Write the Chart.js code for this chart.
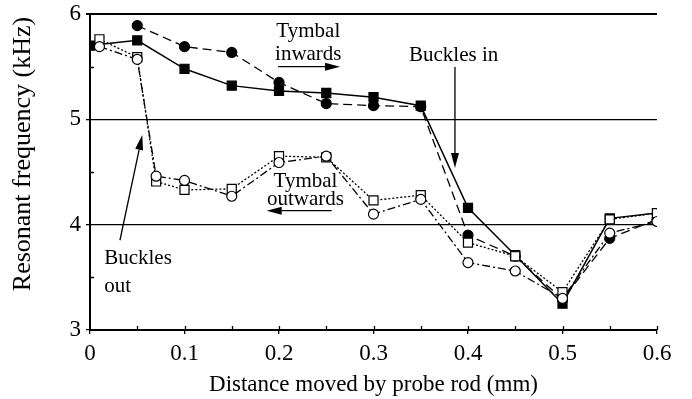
<!DOCTYPE html>
<html>
<head>
<meta charset="utf-8">
<script src="https://cdn.jsdelivr.net/npm/chart.js@4/dist/chart.umd.min.js"></script>
<style>
  html, body { margin: 0; padding: 0; background: #fff; }
  #wrap { width: 692px; height: 399px; }
</style>
</head>
<body>
<div id="wrap"><canvas id="freqChart" width="692" height="399"></canvas></div>
<script>
// Distance moved by the probe rod (mm)
const xInSquares = [0, 0.05, 0.1, 0.15, 0.2, 0.25, 0.3, 0.35, 0.4, 0.45, 0.5, 0.55, 0.6];
const xInCircles = [0.05, 0.1, 0.15, 0.2, 0.25, 0.3, 0.35, 0.4, 0.45, 0.5, 0.55, 0.6];
const xOut = [0.01, 0.05, 0.07, 0.1, 0.15, 0.2, 0.25, 0.3, 0.35, 0.4, 0.45, 0.5, 0.55, 0.6];

// Resonant frequency (kHz)
const filledSquares = [5.70, 5.75, 5.48, 5.32, 5.27, 5.25, 5.21, 5.13, 4.16, 3.71, 3.25, 4.06, 4.11];
const filledCircles = [5.89, 5.69, 5.635, 5.35, 5.15, 5.13, 5.12, 3.90, 3.70, 3.29, 3.87, 4.05];
const openSquares = [5.76, 5.59, 4.41, 4.33, 4.34, 4.65, 4.64, 4.23, 4.28, 3.83, 3.70, 3.36, 4.05, 4.11];
const openCircles = [5.69, 5.57, 4.46, 4.42, 4.27, 4.59, 4.65, 4.10, 4.24, 3.64, 3.56, 3.30, 3.92, 4.03];

const xTickLabels = ['0', '0.1', '0.2', '0.3', '0.4', '0.5', '0.6'];
const yTickLabels = ['3', '4', '5', '6'];

const SERIF = "'Liberation Serif', 'Times New Roman', serif";
const pts = (xs, ys) => xs.map((x, i) => ({ x: x, y: ys[i] }));
const isWhole = (v, step) => Math.abs(v / step - Math.round(v / step)) < 1e-6;

// text labels and arrows, in data units
const notes = [
  { text: 'Tymbal', x: 0.231, y: 5.78, align: 'center' },
  { text: 'inwards', x: 0.231, y: 5.56, align: 'center' },
  { text: 'Tymbal', x: 0.228, y: 4.356, align: 'center' },
  { text: 'outwards', x: 0.228, y: 4.187, align: 'center' },
  { text: 'Buckles in', x: 0.3376, y: 5.558, align: 'left' },
  { text: 'Buckles', x: 0.015, y: 3.628, align: 'left' },
  { text: 'out', x: 0.015, y: 3.364, align: 'left' }
];
const arrows = [
  { from: [0.199, 5.50], to: [0.2646, 5.50] },
  { from: [0.2557, 4.133], to: [0.187, 4.133] },
  { from: [0.3862, 5.498], to: [0.3862, 4.538] },
  { from: [0.0317, 3.852], to: [0.0553, 4.852] }
];

const extras = {
  id: 'extras',
  afterDatasetsDraw(chart) {
    const { ctx, scales: { x, y }, chartArea } = chart;
    ctx.save();
    ctx.strokeStyle = '#000';
    ctx.fillStyle = '#000';

    // inner minor ticks
    ctx.lineWidth = 1.3;
    ctx.beginPath();
    for (let v = 3.5; v < 6; v += 1) {
      const py = Math.round(y.getPixelForValue(v)) + 0.5;
      ctx.moveTo(chartArea.left, py);
      ctx.lineTo(chartArea.left + 4, py);
    }
    for (let i = 1; i <= 12; i++) {
      const px = Math.round(x.getPixelForValue(i * 0.05)) + 0.5;
      ctx.moveTo(px, chartArea.bottom);
      ctx.lineTo(px, chartArea.bottom - 4);
    }
    ctx.stroke();

    // notes
    ctx.font = '21px ' + SERIF;
    ctx.textBaseline = 'alphabetic';
    notes.forEach(n => {
      ctx.textAlign = n.align;
      ctx.fillText(n.text, x.getPixelForValue(n.x), y.getPixelForValue(n.y));
    });

    // arrows
    ctx.lineWidth = 1.3;
    arrows.forEach(a => {
      const x0 = x.getPixelForValue(a.from[0]), y0 = y.getPixelForValue(a.from[1]);
      const x1 = x.getPixelForValue(a.to[0]), y1 = y.getPixelForValue(a.to[1]);
      const ang = Math.atan2(y1 - y0, x1 - x0);
      const len = 15, half = 4;
      const bx = x1 - len * Math.cos(ang), by = y1 - len * Math.sin(ang);
      ctx.beginPath();
      ctx.moveTo(x0, y0);
      ctx.lineTo(bx, by);
      ctx.stroke();
      ctx.beginPath();
      ctx.moveTo(x1, y1);
      ctx.lineTo(bx + half * Math.sin(ang), by - half * Math.cos(ang));
      ctx.lineTo(bx - half * Math.sin(ang), by + half * Math.cos(ang));
      ctx.closePath();
      ctx.fill();
    });

    // y axis title
    ctx.font = '26px ' + SERIF;
    ctx.textAlign = 'center';
    ctx.textBaseline = 'middle';
    ctx.translate(23, 154);
    ctx.rotate(-Math.PI / 2);
    ctx.fillText('Resonant frequency (kHz)', 0, 0);
    ctx.restore();
  }
};

const lineBase = {
  borderColor: '#000',
  borderWidth: 1.3,
  tension: 0,
  pointBorderColor: '#000',
  pointBorderWidth: 1.2
};

new Chart(document.getElementById('freqChart').getContext('2d'), {
  type: 'line',
  data: {
    datasets: [
      Object.assign({}, lineBase, {
        label: 'Outwards, circles',
        data: pts(xOut, openCircles),
        borderDash: [8, 3, 2, 3],
        pointStyle: 'circle',
        pointRadius: 5,
        pointBackgroundColor: '#fff'
      }),
      Object.assign({}, lineBase, {
        label: 'Outwards, squares',
        data: pts(xOut, openSquares),
        borderDash: [2, 2],
        pointStyle: 'rect',
        pointRadius: 6.4,
        pointBackgroundColor: '#fff'
      }),
      Object.assign({}, lineBase, {
        label: 'Inwards, squares',
        data: pts(xInSquares, filledSquares),
        borderWidth: 1.5,
        pointStyle: 'rect',
        pointRadius: 6.4,
        pointBackgroundColor: '#000'
      }),
      Object.assign({}, lineBase, {
        label: 'Inwards, circles',
        data: pts(xInCircles, filledCircles),
        borderDash: [9, 5],
        pointStyle: 'circle',
        pointRadius: 5,
        pointBackgroundColor: '#000'
      })
    ]
  },
  options: {
    responsive: false,
    devicePixelRatio: 1,
    animation: false,
    events: [],
    layout: { padding: { top: 14, right: 35, left: 0, bottom: 0 } },
    plugins: {
      legend: { display: false },
      tooltip: { enabled: false }
    },
    scales: {
      x: {
        type: 'linear',
        min: 0,
        max: 0.6,
        afterFit: s => { s.height = 69; s.paddingLeft = 0; s.paddingRight = 0; },
        border: { display: true, color: '#000', width: 2 },
        grid: {
          drawOnChartArea: false,
          tickLength: 4,
          lineWidth: 1.3,
          color: c => isWhole(c.tick.value, 0.1) ? '#000' : 'rgba(0,0,0,0)'
        },
        ticks: {
          stepSize: 0.05,
          padding: 6,
          color: '#000',
          autoSkip: false,
          maxRotation: 0,
          font: { family: SERIF, size: 23 },
          callback: v => isWhole(v, 0.1) ? xTickLabels[Math.round(v * 10)] : ''
        },
        title: {
          display: true,
          text: 'Distance moved by probe rod (mm)',
          color: '#000',
          font: { family: SERIF, size: 23 },
          padding: { top: 0, bottom: 0 }
        }
      },
      y: {
        min: 3,
        max: 6,
        afterFit: s => { s.width = 90; s.paddingTop = 0; s.paddingBottom = 0; },
        border: { display: true, color: '#000', width: 2 },
        grid: {
          tickLength: 4,
          lineWidth: c => c.tick.value === 6 ? 2 : 1.3,
          color: c => isWhole(c.tick.value, 1) ? '#000' : 'rgba(0,0,0,0)'
        },
        ticks: {
          stepSize: 0.5,
          padding: 5,
          color: '#000',
          font: { family: SERIF, size: 23 },
          callback: v => isWhole(v, 1) ? yTickLabels[Math.round(v) - 3] : ''
        }
      }
    }
  },
  plugins: [extras]
});
</script>
</body>
</html>
